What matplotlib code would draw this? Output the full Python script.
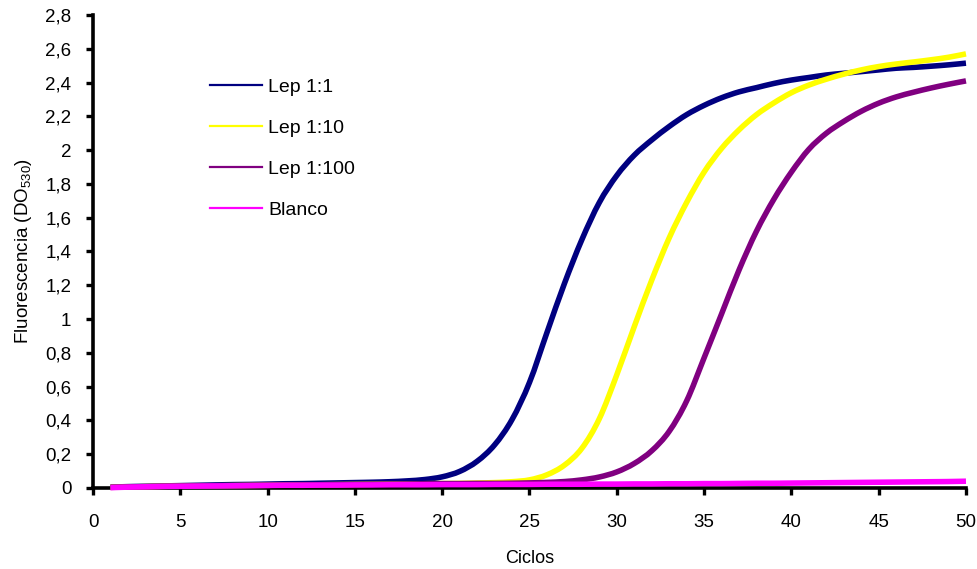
import matplotlib
matplotlib.use('Agg')
import matplotlib.pyplot as plt
from matplotlib.lines import Line2D
from matplotlib.path import Path
from matplotlib.patches import PathPatch
from matplotlib.ticker import MultipleLocator, FuncFormatter
import numpy as np

# datos (fluorescencia por ciclo)
ciclos = np.arange(1, 51)

lep_1_1 = [0.005, 0.008, 0.010, 0.012, 0.014, 0.016, 0.018, 0.020, 0.021, 0.023,
           0.025, 0.026, 0.028, 0.030, 0.032, 0.034, 0.037, 0.042, 0.050, 0.066,
           0.098, 0.158, 0.255, 0.405, 0.625, 0.920, 1.210, 1.470, 1.690, 1.850,
           1.970, 2.060, 2.140, 2.210, 2.265, 2.310, 2.345, 2.370, 2.395, 2.415,
           2.430, 2.445, 2.455, 2.465, 2.475, 2.485, 2.490, 2.497, 2.505, 2.515]

lep_1_10 = [0.004, 0.006, 0.008, 0.010, 0.011, 0.012, 0.013, 0.014, 0.015, 0.016,
            0.017, 0.018, 0.019, 0.020, 0.021, 0.022, 0.023, 0.024, 0.025, 0.026,
            0.027, 0.029, 0.032, 0.037, 0.048, 0.078, 0.135, 0.235, 0.410, 0.670,
            0.955, 1.230, 1.480, 1.690, 1.870, 2.010, 2.120, 2.210, 2.280, 2.340,
            2.385, 2.420, 2.450, 2.475, 2.495, 2.510, 2.522, 2.535, 2.550, 2.570]

lep_1_100 = [0.004, 0.006, 0.008, 0.010, 0.011, 0.012, 0.013, 0.014, 0.015, 0.016,
             0.017, 0.018, 0.019, 0.020, 0.021, 0.022, 0.023, 0.024, 0.025, 0.026,
             0.026, 0.027, 0.027, 0.028, 0.030, 0.033, 0.038, 0.048, 0.065, 0.095,
             0.145, 0.220, 0.335, 0.515, 0.770, 1.030, 1.290, 1.520, 1.710, 1.870,
             2.005, 2.100, 2.170, 2.230, 2.278, 2.315, 2.343, 2.368, 2.390, 2.410]

blanco = [0.002, 0.005, 0.007, 0.009, 0.010, 0.011, 0.012, 0.013, 0.014, 0.015,
          0.016, 0.016, 0.017, 0.017, 0.018, 0.018, 0.019, 0.019, 0.019, 0.020,
          0.020, 0.020, 0.021, 0.021, 0.021, 0.022, 0.022, 0.022, 0.023, 0.023,
          0.024, 0.024, 0.025, 0.025, 0.026, 0.026, 0.027, 0.028, 0.028, 0.029,
          0.030, 0.031, 0.032, 0.033, 0.034, 0.035, 0.036, 0.037, 0.038, 0.040]

series = [
    ('Lep 1:1', lep_1_1, '#000080'),
    ('Lep 1:10', lep_1_10, '#FFFF00'),
    ('Lep 1:100', lep_1_100, '#800080'),
    ('Blanco', blanco, '#FF00FF'),
]


def smooth_path(x, y):
    """linea suavizada tipo Excel (bezier por los puntos)"""
    pts = np.column_stack([x, y]).astype(float)
    ext = np.vstack([pts[0], pts, pts[-1]])
    verts = [pts[0]]
    codes = [Path.MOVETO]
    for i in range(len(pts) - 1):
        p0, p1, p2, p3 = ext[i], ext[i + 1], ext[i + 2], ext[i + 3]
        verts += [p1 + (p2 - p0) / 6, p2 - (p3 - p1) / 6, p2]
        codes += [Path.CURVE4] * 3
    return Path(verts, codes)


plt.rcParams['font.family'] = ['Liberation Sans', 'DejaVu Sans']
plt.rcParams['mathtext.fontset'] = 'custom'
plt.rcParams['mathtext.rm'] = 'Liberation Sans'
plt.rcParams['mathtext.it'] = 'Liberation Sans'

fig = plt.figure(figsize=(9.78, 5.69), dpi=100)
ax = fig.add_axes([0.0951, 0.1424, 0.8926, 0.8312])

for label, vals, color in series:
    patch = PathPatch(smooth_path(ciclos, vals), fill=False, edgecolor=color,
                      linewidth=4.0, capstyle='butt', zorder=3, clip_on=False)
    ax.add_patch(patch)

ax.set_xlim(0, 50)
ax.set_ylim(0, 2.8)
ax.xaxis.set_major_locator(MultipleLocator(5))
ax.yaxis.set_major_locator(MultipleLocator(0.2))
ax.yaxis.set_major_formatter(FuncFormatter(lambda v, p: f'{v:.1f}'.rstrip('0').rstrip('.').replace('.', ',')))

for s in ['top', 'right']:
    ax.spines[s].set_visible(False)
for s in ['left', 'bottom']:
    ax.spines[s].set_linewidth(2.6)
    ax.spines[s].set_color('black')

ax.tick_params(direction='out', length=5, width=2.4, labelsize=13.5, color='black')
ax.tick_params(axis='y', pad=10.5)
ax.tick_params(axis='x', pad=13.5)

ax.set_xlabel('Ciclos', fontsize=13, labelpad=14)
ax.set_ylabel('Fluorescencia (DO$_{530}$)', fontsize=13.5, labelpad=8)

handles = [Line2D([], [], color=c, linewidth=1.6) for _, _, c in series]
labels = [l for l, _, _ in series]
fig.legend(handles, labels, loc='upper left', bbox_to_anchor=(0.2147, 0.862),
           frameon=False, fontsize=14, handlelength=2.7, handletextpad=0.3,
           labelspacing=1.2, borderpad=0, borderaxespad=0)

plt.savefig('out.png', dpi=100)
